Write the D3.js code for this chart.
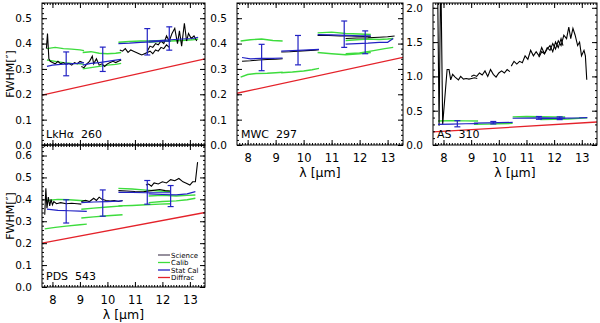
<!DOCTYPE html>
<html><head><meta charset="utf-8">
<script src="https://cdn.jsdelivr.net/npm/d3@7"></script>
<style>
body{margin:0;background:#fff}
svg{display:block}
text{font-family:"DejaVu Sans",sans-serif;fill:#000}
</style>
</head><body>
<svg id="c" width="600" height="323"></svg>
<script>
// ---------------- DATA ----------------
const xTicks = [8, 9, 10, 11, 12, 13];
const yTicksLow = [0, 0.1, 0.2, 0.3, 0.4, 0.5];
const yTicksPDS = [0, 0.1, 0.2, 0.3, 0.4, 0.5, 0.6];
const yTicksAS = [0, 0.5, 1.0, 1.5, 2.0];
const panelNames = ["LkH\u03b1  260", "MWC  297", "AS  310", "PDS  543"];
const legendLabels = ["Science", "Calib", "Stat Cal", "Diffrac"];

// Diffraction limit (straight line)
const diffracA = [[7.62, 0.197], [13.55, 0.34]];
const diffracB = [[7.62, 0.204], [13.55, 0.346]];
const diffracC = [[7.62, 0.19], [13.55, 0.335]];
const diffracD = [[7.62, 0.2], [13.55, 0.34]];

// LkHa 260
const lkhaScience = [
  [[7.78,0.38],[7.82,0.44],[7.87,0.34],[7.92,0.33],[8.0,0.325],[8.1,0.32],[8.2,0.33],[8.3,0.32],[8.4,0.325],[8.5,0.318],[8.6,0.322],[8.7,0.315],[8.8,0.325],[8.9,0.32],[9.0,0.33],[9.1,0.325]],
  [[9.05,0.31],[9.15,0.305],[9.25,0.32],[9.35,0.33],[9.45,0.35],[9.5,0.32],[9.6,0.34],[9.7,0.315],[9.8,0.32],[9.9,0.31],[10.0,0.32],[10.1,0.325],[10.2,0.33],[10.3,0.325],[10.4,0.33],[10.5,0.335]],
  [[10.45,0.375],[10.55,0.37],[10.65,0.38],[10.75,0.365],[10.85,0.375],[10.95,0.37],[11.05,0.365],[11.15,0.36],[11.25,0.355],[11.35,0.36],[11.45,0.365],[11.55,0.37],[11.65,0.36],[11.75,0.375],[11.85,0.37],[11.95,0.385],[12.05,0.38],[12.15,0.395],[12.25,0.385]],
  [[11.45,0.37],[11.55,0.39],[11.65,0.385],[11.75,0.4],[11.85,0.395],[11.95,0.41],[12.05,0.4],[12.15,0.43],[12.25,0.41],[12.35,0.44],[12.45,0.46],[12.55,0.4],[12.62,0.45],[12.7,0.39],[12.8,0.48],[12.88,0.41],[12.95,0.44],[13.05,0.42],[13.15,0.43],[13.25,0.41]]
];
const lkhaCalib = [
  [[7.8,0.38],[8.1,0.385],[8.4,0.38],[8.7,0.378],[9.0,0.375],[9.15,0.372]],
  [[7.8,0.335],[8.1,0.33],[8.4,0.325],[8.7,0.322],[9.0,0.32],[9.15,0.318]],
  [[9.1,0.365],[9.4,0.368],[9.7,0.362],[10.0,0.36],[10.3,0.362],[10.5,0.365]],
  [[9.1,0.3],[9.4,0.305],[9.7,0.31],[10.0,0.315],[10.3,0.318],[10.5,0.322]],
  [[10.4,0.405],[10.8,0.408],[11.2,0.41],[11.6,0.41],[12.0,0.412],[12.3,0.41]],
  [[11.5,0.405],[11.9,0.408],[12.3,0.41],[12.7,0.412],[13.1,0.415],[13.3,0.418]]
];
const lkhaStatCal = [
  [[7.8,0.31],[8.0,0.315],[8.3,0.318],[8.6,0.32],[8.9,0.322],[9.15,0.325]],
  [[9.1,0.315],[9.4,0.322],[9.7,0.325],[10.0,0.33],[10.3,0.335],[10.5,0.338]],
  [[10.4,0.4],[10.8,0.402],[11.2,0.405],[11.6,0.407],[12.0,0.41],[12.3,0.41]],
  [[11.5,0.41],[11.9,0.412],[12.3,0.415],[12.7,0.418],[13.1,0.42],[13.3,0.425]]
];
const lkhaErr = [[8.5,0.32,0.047],[9.83,0.338,0.048],[11.45,0.407,0.052],[12.25,0.42,0.046]];

// MWC 297
const mwcScience = [
  [[7.8,0.33],[8.1,0.332],[8.4,0.335],[8.7,0.337],[9.0,0.338],[9.25,0.34]],
  [[9.2,0.367],[9.5,0.368],[9.8,0.37],[10.1,0.372],[10.4,0.374],[10.55,0.376]],
  [[10.5,0.432],[10.9,0.432],[11.3,0.43],[11.7,0.43],[12.1,0.428],[12.4,0.427]],
  [[11.5,0.42],[11.9,0.422],[12.3,0.423],[12.7,0.425],[13.0,0.427],[13.25,0.43]]
];
const mwcCalib = [
  [[7.75,0.41],[8.1,0.415],[8.5,0.418],[8.9,0.412],[9.25,0.41]],
  [[7.75,0.268],[8.0,0.278],[8.3,0.282],[8.7,0.283],[9.0,0.285],[9.25,0.287]],
  [[9.2,0.285],[9.6,0.288],[10.0,0.292],[10.3,0.297],[10.55,0.302]],
  [[10.5,0.442],[11.0,0.445],[11.5,0.44],[12.0,0.438],[12.4,0.436]],
  [[10.5,0.365],[11.0,0.36],[11.5,0.356],[12.0,0.36],[12.4,0.365]],
  [[11.5,0.412],[11.9,0.415],[12.3,0.418],[12.7,0.416],[13.0,0.418],[13.2,0.42]],
  [[11.5,0.36],[12.0,0.363],[12.5,0.372],[12.9,0.38],[13.2,0.385]]
];
const mwcStatCal = [
  [[7.8,0.345],[8.1,0.34],[8.5,0.342],[8.9,0.342],[9.25,0.343]],
  [[9.2,0.37],[9.6,0.372],[10.0,0.374],[10.55,0.377]],
  [[10.5,0.435],[11.0,0.434],[11.5,0.432],[12.0,0.43],[12.4,0.43]],
  [[11.5,0.398],[11.9,0.4],[12.3,0.402],[12.7,0.405],[13.0,0.405],[13.2,0.42]]
];
const mwcErr = [[8.5,0.345,0.052],[9.8,0.374,0.058],[11.45,0.437,0.052],[12.2,0.405,0.045]];

// AS 310
const asScience = [
  [[7.78,2.6],[7.84,0.28],[7.9,2.6],[7.97,0.3],[8.13,1.1],[8.2,1.1],[8.26,0.95],[8.33,1.03],[8.42,0.99],[8.54,0.95],[8.62,1.0],[8.72,0.96],[8.82,0.97],[8.92,0.96],[9.02,0.97],[9.12,0.98],[9.22,0.97]],
  [[9.0,1.0],[9.1,1.02],[9.2,1.0],[9.3,1.05],[9.4,1.02],[9.5,1.08],[9.6,1.0],[9.7,1.1],[9.8,1.03],[9.9,0.99],[10.0,1.05],[10.1,1.08],[10.2,1.05],[10.3,1.1],[10.4,1.07]],
  [[10.45,1.15],[10.55,1.22],[10.65,1.18],[10.75,1.22],[10.85,1.2],[10.95,1.3],[11.05,1.25],[11.15,1.38],[11.25,1.3],[11.35,1.36],[11.45,1.3],[11.55,1.42],[11.65,1.33],[11.75,1.4],[11.85,1.45],[11.95,1.36],[12.05,1.5],[12.15,1.42],[12.25,1.55],[12.32,1.45]],
  [[11.45,1.28],[11.55,1.36],[11.65,1.33],[11.75,1.42],[11.85,1.38],[11.95,1.48],[12.05,1.4],[12.15,1.52],[12.25,1.45],[12.35,1.6],[12.45,1.55],[12.53,1.72],[12.6,1.55],[12.68,1.7],[12.76,1.6],[12.85,1.45],[12.92,1.5],[12.99,1.3],[13.08,1.38],[13.13,1.3],[13.18,0.95]]
];
const asCalib = [
  [[7.8,0.35],[8.3,0.355],[8.8,0.352],[9.25,0.35]],
  [[9.1,0.3],[9.6,0.305],[10.0,0.31],[10.5,0.315]],
  [[10.5,0.41],[11.0,0.415],[11.5,0.412],[12.0,0.41],[12.4,0.41]],
  [[11.5,0.37],[12.0,0.375],[12.5,0.38],[12.9,0.39],[13.2,0.395]]
];
const asStatCal = [
  [[7.8,0.3],[8.3,0.305],[8.8,0.31],[9.25,0.312]],
  [[9.1,0.318],[9.6,0.322],[10.0,0.325],[10.5,0.33]],
  [[10.5,0.39],[11.0,0.392],[11.5,0.395],[12.0,0.393],[12.4,0.392]],
  [[11.5,0.385],[12.0,0.388],[12.5,0.392],[12.9,0.395],[13.2,0.4]]
];
const asErr = [[8.5,0.31,0.045],[9.8,0.325,0.018],[11.45,0.395,0.02],[12.2,0.39,0.02]];

// PDS 543
const pdsScience = [
  [[7.72,0.33],[7.76,0.45],[7.8,0.36],[7.85,0.41],[7.9,0.37],[7.95,0.4],[8.0,0.375],[8.05,0.39],[8.15,0.38],[8.3,0.385],[8.5,0.38],[8.7,0.382],[8.9,0.38],[9.05,0.378]],
  [[9.05,0.39],[9.2,0.395],[9.35,0.39],[9.5,0.405],[9.6,0.395],[9.7,0.41],[9.8,0.4],[9.95,0.395],[10.1,0.392],[10.25,0.395],[10.4,0.39],[10.55,0.395]],
  [[10.4,0.44],[10.7,0.438],[11.0,0.436],[11.3,0.435],[11.6,0.44],[11.9,0.445],[12.1,0.44],[12.3,0.438]],
  [[11.4,0.465],[11.5,0.47],[11.6,0.46],[11.7,0.475],[11.85,0.47],[12.0,0.48],[12.15,0.475],[12.3,0.49],[12.45,0.485],[12.6,0.495],[12.75,0.48],[12.85,0.475],[13.0,0.465],[13.1,0.48],[13.2,0.48],[13.28,0.57]]
];
const pdsCalib = [
  [[7.8,0.395],[8.2,0.4],[8.6,0.398],[9.0,0.395],[9.25,0.393]],
  [[7.72,0.265],[8.1,0.272],[8.5,0.278],[9.0,0.284],[9.25,0.287]],
  [[9.05,0.355],[9.5,0.36],[10.0,0.365],[10.55,0.37]],
  [[9.05,0.315],[9.5,0.32],[10.0,0.325],[10.55,0.33]],
  [[10.4,0.45],[10.9,0.447],[11.4,0.442],[11.9,0.438],[12.3,0.435]],
  [[10.4,0.37],[10.9,0.372],[11.4,0.375],[11.9,0.378],[12.3,0.38]],
  [[11.5,0.415],[12.0,0.418],[12.5,0.415],[12.9,0.418],[13.2,0.42]],
  [[11.5,0.385],[12.0,0.39],[12.5,0.393],[12.9,0.398],[13.2,0.405]]
];
const pdsStatCal = [
  [[7.8,0.355],[8.2,0.35],[8.6,0.348],[9.0,0.346],[9.25,0.345]],
  [[9.05,0.385],[9.5,0.388],[10.0,0.39],[10.55,0.393]],
  [[10.4,0.432],[10.9,0.432],[11.4,0.43],[11.9,0.43],[12.3,0.43]],
  [[11.5,0.425],[12.0,0.422],[12.5,0.42],[12.9,0.425],[13.2,0.435]]
];
const pdsErr = [[8.5,0.345,0.053],[9.83,0.383,0.06],[11.45,0.432,0.054],[12.3,0.415,0.048]];

// ---------------- DRAWING ----------------
const COL = {science:"#000000", calib:"#3ddc3d", stat:"#2222c4", diff:"#e4222a", legendSci:"#5d5468"};
const xDomain = [7.62, 13.55];
const svg = d3.select("#c");

const panels = [
  {name:panelNames[0], x0:42, x1:205, y0:3, y1:145, ymax:0.56, yTicks:yTicksLow, yMinorStep:0.02, showX:false, yTitle:true,
   sci:lkhaScience, cal:lkhaCalib, stat:lkhaStatCal, err:lkhaErr, diff:diffracA},
  {name:panelNames[1], x0:237, x1:403, y0:3, y1:145, ymax:0.56, yTicks:yTicksLow, yMinorStep:0.02, showX:true, yTitle:false,
   sci:mwcScience, cal:mwcCalib, stat:mwcStatCal, err:mwcErr, diff:diffracB},
  {name:panelNames[2], x0:433, x1:597, y0:3, y1:145, ymax:2.07, yTicks:yTicksAS, yMinorStep:0.1, showX:true, yTitle:false,
   sci:asScience, cal:asCalib, stat:asStatCal, err:asErr, diff:diffracC},
  {name:panelNames[3], x0:42, x1:205, y0:145, y1:287, ymax:0.648, yTicks:yTicksPDS, yMinorStep:0.02, showX:true, yTitle:true, legend:true,
   sci:pdsScience, cal:pdsCalib, stat:pdsStatCal, err:pdsErr, diff:diffracD}
];

function minorRange(lo, hi, step) {
  const n0 = Math.ceil(lo / step - 1e-9), n1 = Math.floor(hi / step + 1e-9);
  return d3.range(n0, n1 + 1).map(i => +(i * step).toFixed(4));
}

panels.forEach((p, idx) => {
  const x = d3.scaleLinear().domain(xDomain).range([p.x0, p.x1]);
  const y = d3.scaleLinear().domain([0, p.ymax]).range([p.y1, p.y0]);
  const g = svg.append("g");
  const clipId = "clip" + idx;
  svg.append("clipPath").attr("id", clipId).append("rect")
    .attr("x", p.x0).attr("y", p.y0).attr("width", p.x1 - p.x0).attr("height", p.y1 - p.y0);
  const plot = g.append("g").attr("clip-path", `url(#${clipId})`);
  const line = d3.line().x(d => x(d[0])).y(d => y(d[1]));

  plot.selectAll(".cal").data(p.cal).join("path").attr("d", line)
    .attr("fill", "none").attr("stroke", COL.calib).attr("stroke-width", 1.4);
  plot.selectAll(".sci").data(p.sci).join("path").attr("d", line)
    .attr("fill", "none").attr("stroke", COL.science).attr("stroke-width", 1.1);
  plot.selectAll(".stat").data(p.stat).join("path").attr("d", line)
    .attr("fill", "none").attr("stroke", COL.stat).attr("stroke-width", 1.2);
  const eb = plot.selectAll(".eb").data(p.err).join("g").attr("stroke", COL.stat).attr("stroke-width", 1.2);
  eb.append("line").attr("x1", d => x(d[0])).attr("x2", d => x(d[0]))
    .attr("y1", d => y(d[1] - d[2])).attr("y2", d => y(d[1] + d[2]));
  eb.append("line").attr("x1", d => x(d[0]) - 3).attr("x2", d => x(d[0]) + 3)
    .attr("y1", d => y(d[1] - d[2])).attr("y2", d => y(d[1] - d[2]));
  eb.append("line").attr("x1", d => x(d[0]) - 3).attr("x2", d => x(d[0]) + 3)
    .attr("y1", d => y(d[1] + d[2])).attr("y2", d => y(d[1] + d[2]));
  plot.append("path").attr("d", line(p.diff)).attr("fill", "none")
    .attr("stroke", COL.diff).attr("stroke-width", 1.3);

  const xMinor = minorRange(xDomain[0], xDomain[1], 0.1);
  const yMinor = minorRange(0, p.ymax, p.yMinorStep);
  const styleAxis = sel => { sel.select(".domain").remove(); sel.selectAll("line").attr("stroke", "#000").attr("stroke-width", 1); };

  const bottom = g.append("g").attr("transform", `translate(0,${p.y1})`)
    .call(d3.axisBottom(x).tickValues(xTicks).tickSizeInner(-5).tickSizeOuter(0).tickPadding(9)
      .tickFormat(p.showX ? d3.format("d") : ""));
  styleAxis(bottom);
  bottom.selectAll("text").attr("font-size", 11.5).attr("font-family", "DejaVu Sans");
  g.append("g").attr("transform", `translate(0,${p.y1})`)
    .call(d3.axisBottom(x).tickValues(xMinor).tickSizeInner(-2).tickSizeOuter(0).tickFormat("")).call(styleAxis);
  g.append("g").attr("transform", `translate(0,${p.y0})`)
    .call(d3.axisTop(x).tickValues(xTicks).tickSizeInner(-5).tickSizeOuter(0).tickFormat("")).call(styleAxis);
  g.append("g").attr("transform", `translate(0,${p.y0})`)
    .call(d3.axisTop(x).tickValues(xMinor).tickSizeInner(-2).tickSizeOuter(0).tickFormat("")).call(styleAxis);

  const left = g.append("g").attr("transform", `translate(${p.x0},0)`)
    .call(d3.axisLeft(y).tickValues(p.yTicks).tickSizeInner(-5).tickSizeOuter(0).tickPadding(10).tickFormat(d3.format(".1f")));
  styleAxis(left);
  left.selectAll("text").attr("font-size", 10.5).attr("font-family", "DejaVu Sans");
  g.append("g").attr("transform", `translate(${p.x0},0)`)
    .call(d3.axisLeft(y).tickValues(yMinor).tickSizeInner(-2).tickSizeOuter(0).tickFormat("")).call(styleAxis);
  g.append("g").attr("transform", `translate(${p.x1},0)`)
    .call(d3.axisRight(y).tickValues(p.yTicks).tickSizeInner(-5).tickSizeOuter(0).tickFormat("")).call(styleAxis);
  g.append("g").attr("transform", `translate(${p.x1},0)`)
    .call(d3.axisRight(y).tickValues(yMinor).tickSizeInner(-2).tickSizeOuter(0).tickFormat("")).call(styleAxis);

  g.append("rect").attr("x", p.x0).attr("y", p.y0).attr("width", p.x1 - p.x0).attr("height", p.y1 - p.y0)
    .attr("fill", "none").attr("stroke", "#000").attr("stroke-width", 1);

  g.append("text").attr("x", p.x0 + 4).attr("y", p.y1 - 7).attr("font-size", 11)
    .style("white-space", "pre").text(p.name);

  if (p.showX) {
    g.append("text").attr("x", (p.x0 + p.x1) / 2).attr("y", p.y1 + 32).attr("text-anchor", "middle")
      .attr("font-size", 12.5).text("\u03bb [\u03bcm]");
  }
  if (p.yTitle) {
    g.append("text").attr("transform", `translate(14,${(p.y0 + p.y1) / 2}) rotate(-90)`)
      .attr("text-anchor", "middle").attr("font-size", 11).text("FWHM[\u2033]");
  }

  if (p.legend) {
    const cols = [COL.legendSci, COL.calib, COL.stat, COL.diff];
    const lg = g.append("g");
    const rows = lg.selectAll("g").data(legendLabels).join("g")
      .attr("transform", (d, i) => `translate(158,${255 + i * 7.5})`);
    rows.append("line").attr("x1", 0).attr("x2", 12).attr("y1", 0).attr("y2", 0)
      .attr("stroke", (d, i) => cols[i]).attr("stroke-width", 1.3);
    rows.append("text").attr("x", 13).attr("y", 2.5).attr("font-size", 7).style("white-space", "pre").text(d => d);
  }
});
</script>
</body></html>
